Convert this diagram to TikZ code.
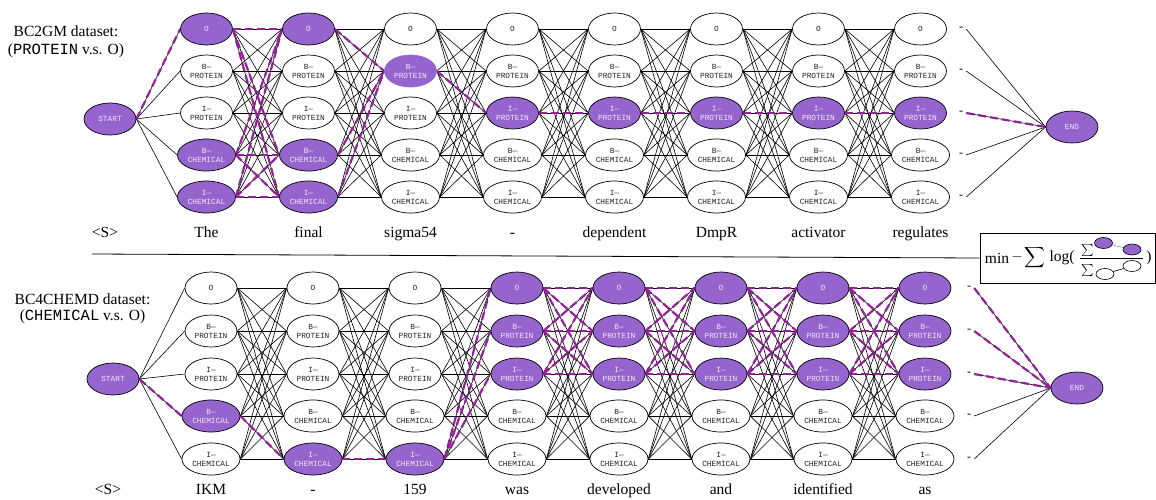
\documentclass[tikz,border=0pt]{standalone}
\usepackage{amsmath}
\usepackage{fontspec}
\setmainfont{Liberation Serif}
\setmonofont{Liberation Mono}
\usetikzlibrary{shapes.geometric}
\pgfdeclarelayer{bg}
\pgfsetlayers{bg,main}
\definecolor{nodepurple}{RGB}{150,100,205}
\definecolor{pathpurple}{RGB}{145,35,150}
\definecolor{lighttext}{RGB}{238,230,250}
\expandafter\def\csname rl1\endcsname{O}
\expandafter\def\csname rl2\endcsname{B—\\PROTEIN}
\expandafter\def\csname rl3\endcsname{I—\\PROTEIN}
\expandafter\def\csname rl4\endcsname{B—\\CHEMICAL}
\expandafter\def\csname rl5\endcsname{I—\\CHEMICAL}
\begin{document}
\begin{tikzpicture}[x=1pt,y=-1pt,
  lattice/.style={ellipse, draw=black, line width=0.7pt, inner sep=1.8pt,
    minimum width=52pt, minimum height=32pt,
    font=\fontsize{7.8}{9}\ttfamily, align=center, text=black!85, fill=white},
  hlnode/.style={fill=nodepurple, text=lighttext},
  noborder/.style={draw=nodepurple},
  autofill/.code={\ifcsname hl#1\endcsname\pgfkeysalso{hlnode}\fi
                  \ifcsname nb#1\endcsname\pgfkeysalso{noborder}\fi},
  edge/.style={line width=0.6pt, black},
  hlpath/.style={line width=2.2pt, pathpurple, dash pattern=on 8pt off 4pt},
  word/.style={font=\fontsize{15.5}{18}\selectfont, inner sep=0pt},
  dashnode/.style={font=\fontsize{12}{14}\selectfont, inner xsep=3pt, inner ysep=0pt},
  mini/.style={ellipse, draw=black, line width=0.6pt, inner sep=0pt,
    minimum width=18pt, minimum height=11pt, fill=white},
]
\useasboundingbox (0,0) rectangle (1156,499);

% highlighted nodes
\foreach \n in {t-1-1,t-1-4,t-1-5,t-2-1,t-2-4,t-2-5,t-3-2,t-4-3,t-5-3,t-6-3,t-7-3,t-8-3,
  b-1-4,b-2-5,b-3-5,b-4-1,b-4-2,b-4-3,b-5-1,b-5-2,b-5-3,b-6-1,b-6-2,b-6-3,
  b-7-1,b-7-2,b-7-3,b-8-1,b-8-2,b-8-3}{\expandafter\gdef\csname hl\n\endcsname{}}
\expandafter\gdef\csname nbt-3-2\endcsname{}

% lattice nodes
\foreach \k in {1,...,8}{
  \pgfmathsetmacro\xt{206.5+102*(\k-1)}
  \pgfmathsetmacro\xb{211+102*(\k-1)}
  \foreach \r/\yt/\yb in {1/29/288,2/71/331,3/113/374,4/155/416,5/197/459}{
    \node[lattice, autofill=t-\k-\r] (t-\k-\r) at (\xt,\yt) {\csname rl\r\endcsname};
    \node[lattice, autofill=b-\k-\r] (b-\k-\r) at (\xb,\yb) {\csname rl\r\endcsname};
  }
}
% dash nodes
\foreach \r/\yt/\yb in {1/29/288,2/71/331,3/113/374,4/155/416,5/197/459}{
  \node[dashnode] (td-\r) at (961,\yt) {-};
  \node[dashnode] (bd-\r) at (969,\yb) {-};
}
% start / end
\node[lattice, hlnode] (tS) at (110,119) {START};
\node[lattice, hlnode] (tE) at (1072,127) {END};
\node[lattice, hlnode] (bS) at (113,379) {START};
\node[lattice, hlnode] (bE) at (1077,388) {END};

% words
\foreach \w [count=\i from 0] in {<S>,The,final,sigma54,-,dependent,DmpR,activator,regulates}{
  \pgfmathsetmacro\xx{\i==0 ? 105 : 206.5+102*(\i-1)}
  \node[word, anchor=base] (tw-\i) at (\xx,237) {\w};
}
\foreach \w [count=\i from 0] in {<S>,IKM,-,159,was,developed,and,identified,as}{
  \pgfmathsetmacro\xx{\i==0 ? 108 : 211+102*(\i-1)}
  \node[word, anchor=base] (bw-\i) at (\xx,494) {\w};
}

% dataset labels
\node[word] (l1a) at (66,31.5) {BC2GM dataset:};
\node[word] (l1b) at (66,50.5) {(\texttt{PROTEIN} v.s. O)};
\node[word] (l2a) at (82.5,299) {BC4CHEMD dataset:};
\node[word] (l2b) at (82.5,317) {(\texttt{CHEMICAL} v.s. O)};

% formula box
\node[draw, line width=0.8pt, minimum width=175pt, minimum height=50pt, inner sep=0pt] (box) at (1067.5,258) {};
\coordinate (sepL) at (92,254);
\draw[line width=0.8pt] (sepL) -- (box.west);
\node[word] (fmin) at (997,258) {min};
\node[word] (fminus) at (1017,257) {$-$};
\node[word] (fsum) at (1035,258) {$\displaystyle\sum$};
\node[word] (flog) at (1062,258) {log(};
\node[word] (fclose) at (1149,258) {)};
\draw[line width=0.7pt] (1080,258) -- (1143,258);
\node[font=\fontsize{12}{14}\selectfont, inner sep=0pt] (nsum) at (1087.5,250.5) {$\textstyle\sum$};
\node[font=\fontsize{12}{14}\selectfont, inner sep=0pt] (dsum) at (1087.5,270) {$\textstyle\sum$};
\node[mini, fill=nodepurple] (n1) at (1103.5,243) {};
\node[mini, fill=nodepurple] (n2) at (1132,249.5) {};
\node[mini] (d1) at (1105,274) {};
\node[mini] (d2) at (1132,266) {};

\begin{pgfonlayer}{bg}
\draw[pathpurple!70, line width=0.5pt] (n1) -- (n2);
\draw[line width=0.6pt] (d1) -- (d2);
% black lattice edges
\foreach \k in {1,...,7}{
  \pgfmathtruncatemacro\kk{\k+1}
  \foreach \r in {1,...,5}{\foreach \s in {1,...,5}{
    \draw[edge] (t-\k-\r.east) -- (t-\kk-\s.west);
    \draw[edge] (b-\k-\r.east) -- (b-\kk-\s.west);
  }}
}
\foreach \r in {1,...,5}{
  \draw[edge] (tS.east) -- (t-1-\r.west);
  \draw[edge] (bS.east) -- (b-1-\r.west);
  \draw[edge] (td-\r.east) -- (tE.west);
  \draw[edge] (bd-\r.east) -- (bE.west);
}
% highlighted top path
\draw[hlpath] (tS.east) -- (t-1-1.west);
\foreach \r in {1,4,5}{\foreach \s in {1,4,5}{\draw[hlpath] (t-1-\r.east) -- (t-2-\s.west);}}
\foreach \r in {1,4,5}{\draw[hlpath] (t-2-\r.east) -- (t-3-2.west);}
\draw[hlpath] (t-3-2.east) -- (t-4-3.west);
\foreach \k/\kk in {4/5,5/6,6/7,7/8}{\draw[hlpath] (t-\k-3.east) -- (t-\kk-3.west);}
\draw[hlpath] (td-3.east) -- (tE.west);
% highlighted bottom path
\draw[hlpath] (bS.east) -- (b-1-4.west);
\draw[hlpath] (b-1-4.east) -- (b-2-5.west);
\draw[hlpath] (b-2-5.east) -- (b-3-5.west);
\foreach \s in {1,2,3}{\draw[hlpath] (b-3-5.east) -- (b-4-\s.west);}
\foreach \k/\kk in {4/5,5/6,6/7,7/8}{\foreach \r in {1,2,3}{\foreach \s in {1,2,3}{
  \draw[hlpath] (b-\k-\r.east) -- (b-\kk-\s.west);}}}
\foreach \r in {1,2,3}{\draw[hlpath] (bd-\r.east) -- (bE.west);}
\end{pgfonlayer}
\end{tikzpicture}
\end{document}
